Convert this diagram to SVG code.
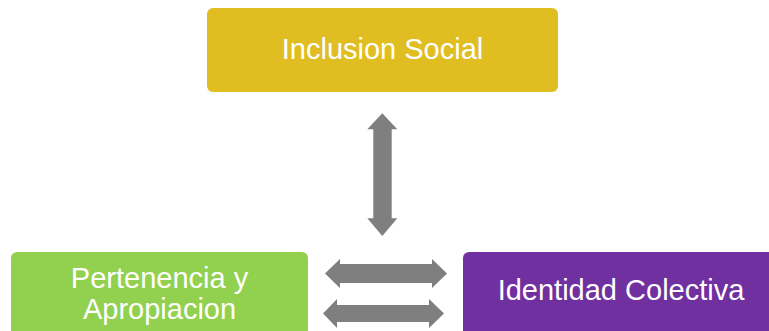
<svg xmlns="http://www.w3.org/2000/svg" width="769" height="331" viewBox="0 0 769 331">
<style>
.lbl{font-family:"Liberation Sans",Arial,sans-serif;font-size:29px;fill:#ffffff;text-anchor:middle}
.arr{fill:#7F7F7F}
</style>
<rect width="769" height="331" fill="#ffffff"/>
<g id="connectors">
<polygon class="arr" points="382.3,113.3 397.3,129.3 391.7,129.3 391.7,218.3 397.3,218.3 382.3,236 367.3,218.3 373.3,218.3 373.3,129.3 367.3,129.3"/>
<polygon class="arr" points="325,273.5 340,259 340,264 432,264 432,259 447,273.5 432,288 432,283 340,283 340,288"/>
<polygon class="arr" points="323,313.5 337,299 337,305 429,305 429,299 444,313.5 429,328 429,322 337,322 337,328"/>
</g>
<g id="node-inclusion">
<rect x="207" y="8" width="351" height="84" rx="6" fill="#E0BE22"/>
<text class="lbl" x="382.5" y="59">Inclusion Social</text>
</g>
<g id="node-pertenencia">
<rect x="11" y="252" width="297" height="100" rx="6" fill="#92D050"/>
<text class="lbl" x="159.5" y="288">Pertenencia y</text>
<text class="lbl" x="159.5" y="319">Apropiacion</text>
</g>
<g id="node-identidad">
<rect x="463" y="252" width="316" height="100" rx="6" fill="#7030A0"/>
<text class="lbl" x="621" y="300">Identidad Colectiva</text>
</g>
</svg>
